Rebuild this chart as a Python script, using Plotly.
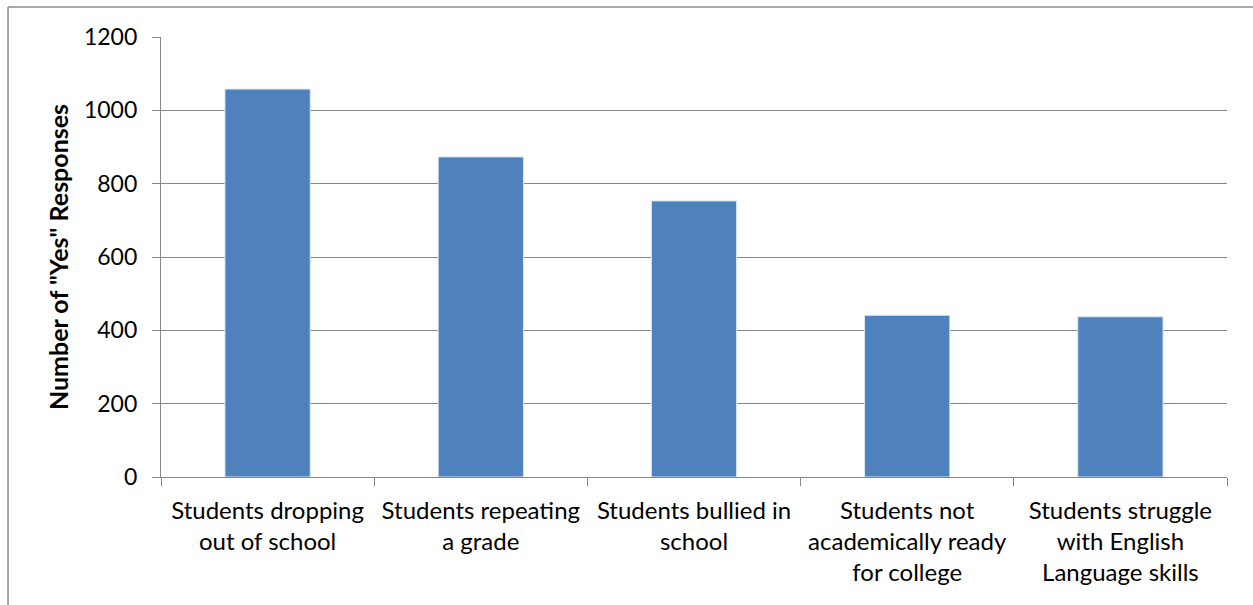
import plotly.graph_objects as go

categories = [
    "Students dropping<br>out of school",
    "Students repeating<br>a grade",
    "Students bullied in<br>school",
    "Students not<br>academically ready<br>for college",
    "Students struggle<br>with English<br>Language skills",
]
yes_responses = [1058, 873, 753, 441, 437]
y_ticks = [0, 200, 400, 600, 800, 1000, 1200]

FONT = "Lato, Open Sans, sans-serif"
GRID = "#868686"

fig = go.Figure(
    go.Bar(
        x=categories,
        y=yes_responses,
        marker=dict(color="#4F81BD", line=dict(color="#DCE6F2", width=1)),
        width=0.4,
    )
)

fig.update_layout(
    width=1253,
    height=605,
    margin=dict(l=161, r=26, t=37, b=128),
    paper_bgcolor="white",
    plot_bgcolor="white",
    showlegend=False,
    font=dict(family=FONT, size=24, color="black"),
    xaxis=dict(
        showline=True,
        linecolor=GRID,
        linewidth=1.3,
        ticks="outside",
        tickson="boundaries",
        ticklen=8,
        tickcolor=GRID,
        tickwidth=1.3,
        showgrid=False,
        ticklabelstandoff=12,
        tickfont=dict(size=24),
    ),
    yaxis=dict(
        range=[0, 1200],
        tickvals=y_ticks,
        showline=True,
        linecolor=GRID,
        linewidth=1.3,
        ticks="outside",
        ticklen=8,
        tickcolor=GRID,
        tickwidth=1.3,
        gridcolor=GRID,
        gridwidth=1.3,
        zeroline=False,
        ticklabelstandoff=10,
        tickfont=dict(size=23),
        title=dict(
            text='Number of "Yes" Responses',
            font=dict(family=FONT, size=25, color="black", weight="bold"),
            standoff=8,
        ),
    ),
)

# outer chart border (left and top edges)
fig.add_shape(type="line", xref="paper", yref="paper",
              x0=-0.1435, x1=-0.1435, y0=1.068, y1=-0.4,
              line=dict(color="#8C8C8C", width=1.5))
fig.add_shape(type="line", xref="paper", yref="paper",
              x0=-0.1435, x1=1.1, y0=1.068, y1=1.068,
              line=dict(color="#8C8C8C", width=1.5))

fig.write_html("out.html")
